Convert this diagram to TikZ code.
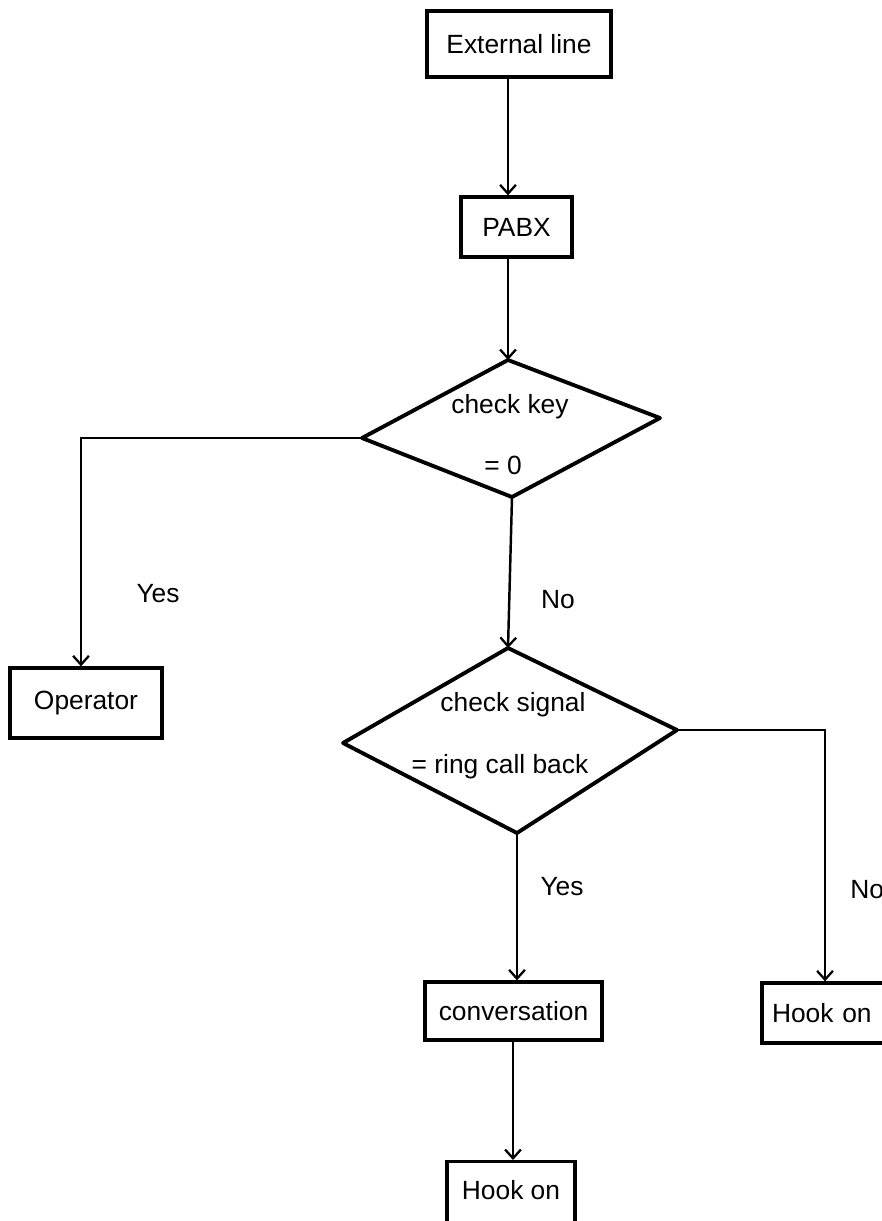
\documentclass[tikz,border=0pt]{standalone}
\usepackage{fontspec}
\setmainfont{Liberation Sans}
\usetikzlibrary{arrows.meta}
\begin{document}
\begin{tikzpicture}[x=0.02cm,y=-0.02cm,
  box/.style={draw, line width=1.9pt, inner sep=0pt, font=\fontsize{15}{17}\selectfont},
  lbl/.style={inner sep=0pt, font=\fontsize{15}{17}\selectfont},
  conn/.style={line width=1.4pt},
  arr/.style={conn, -{Straight Barb[length=5pt,width=9pt,line width=1.3pt]}},
  dia/.style={line width=2.2pt, line join=round}]
\useasboundingbox (0,0) rectangle (882,1221);
\clip (0,0) rectangle (882,1221);
% boxes
\node[box, minimum width=3.68cm, minimum height=1.32cm] (ext) at (519,44) {External line};
\node[box, minimum width=2.22cm, minimum height=1.2cm] (pabx) at (516.5,227) {PABX};
\node[box, minimum width=3.04cm, minimum height=1.4cm] (op) at (86,703) {Operator};
\node[box, minimum width=3.54cm, minimum height=1.16cm] (conv) at (513.5,1011) {conversation};
\node[box, minimum width=2.76cm, minimum height=1.2cm, text width=2.5cm, align=left] (hookr) at (831,1013) {\hspace*{2pt}Hook on};
\node[box, minimum width=2.56cm, minimum height=1.6cm, anchor=north] (hookb) at (511,1160) {};
\node[lbl] (hookbt) at (511,1190) {Hook on};
% diamond 1
\coordinate (d1t) at (508,360);
\coordinate (d1r) at (660,418);
\coordinate (d1b) at (512,497);
\coordinate (d1l) at (362,438);
\draw[dia] (d1t) -- (d1r) -- (d1b) -- (d1l) -- cycle;
\node[lbl] (d1a) at (510,407) {check key};
\node[lbl] (d1c) at (503,465) {= 0};
% diamond 2
\coordinate (d2t) at (508,648);
\coordinate (d2r) at (677,730);
\coordinate (d2b) at (517,833);
\coordinate (d2l) at (343,743);
\draw[dia] (d2t) -- (d2r) -- (d2b) -- (d2l) -- cycle;
\node[lbl] (d2a) at (513,705) {check signal};
\node[lbl] (d2c) at (500,767) {= ring call back};
% connectors
\draw[arr] (ext.south -| 508,0) -- (pabx.north -| 508,0);
\draw[arr] (pabx.south -| 508,0) -- (d1t);
\coordinate (c1) at (81,438);
\draw[arr] (d1l) -- (c1) -- (op.north -| c1);
\draw[arr] (d1b) -- (d2t);
\coordinate (c2) at (825,730);
\draw[arr] (d2r) -- (c2) -- (hookr.north -| c2);
\draw[arr] (d2b) -- (conv.north -| d2b);
\draw[arr] (conv.south -| 513,0) -- (hookb.north -| 513,0);
% labels
\node[lbl] (y1) at (158,594) {Yes};
\node[lbl] (n1) at (558,600) {No};
\node[lbl] (y2) at (562,887) {Yes};
\node[lbl, anchor=west] (n2) at (850,890) {No};
\end{tikzpicture}
\end{document}
